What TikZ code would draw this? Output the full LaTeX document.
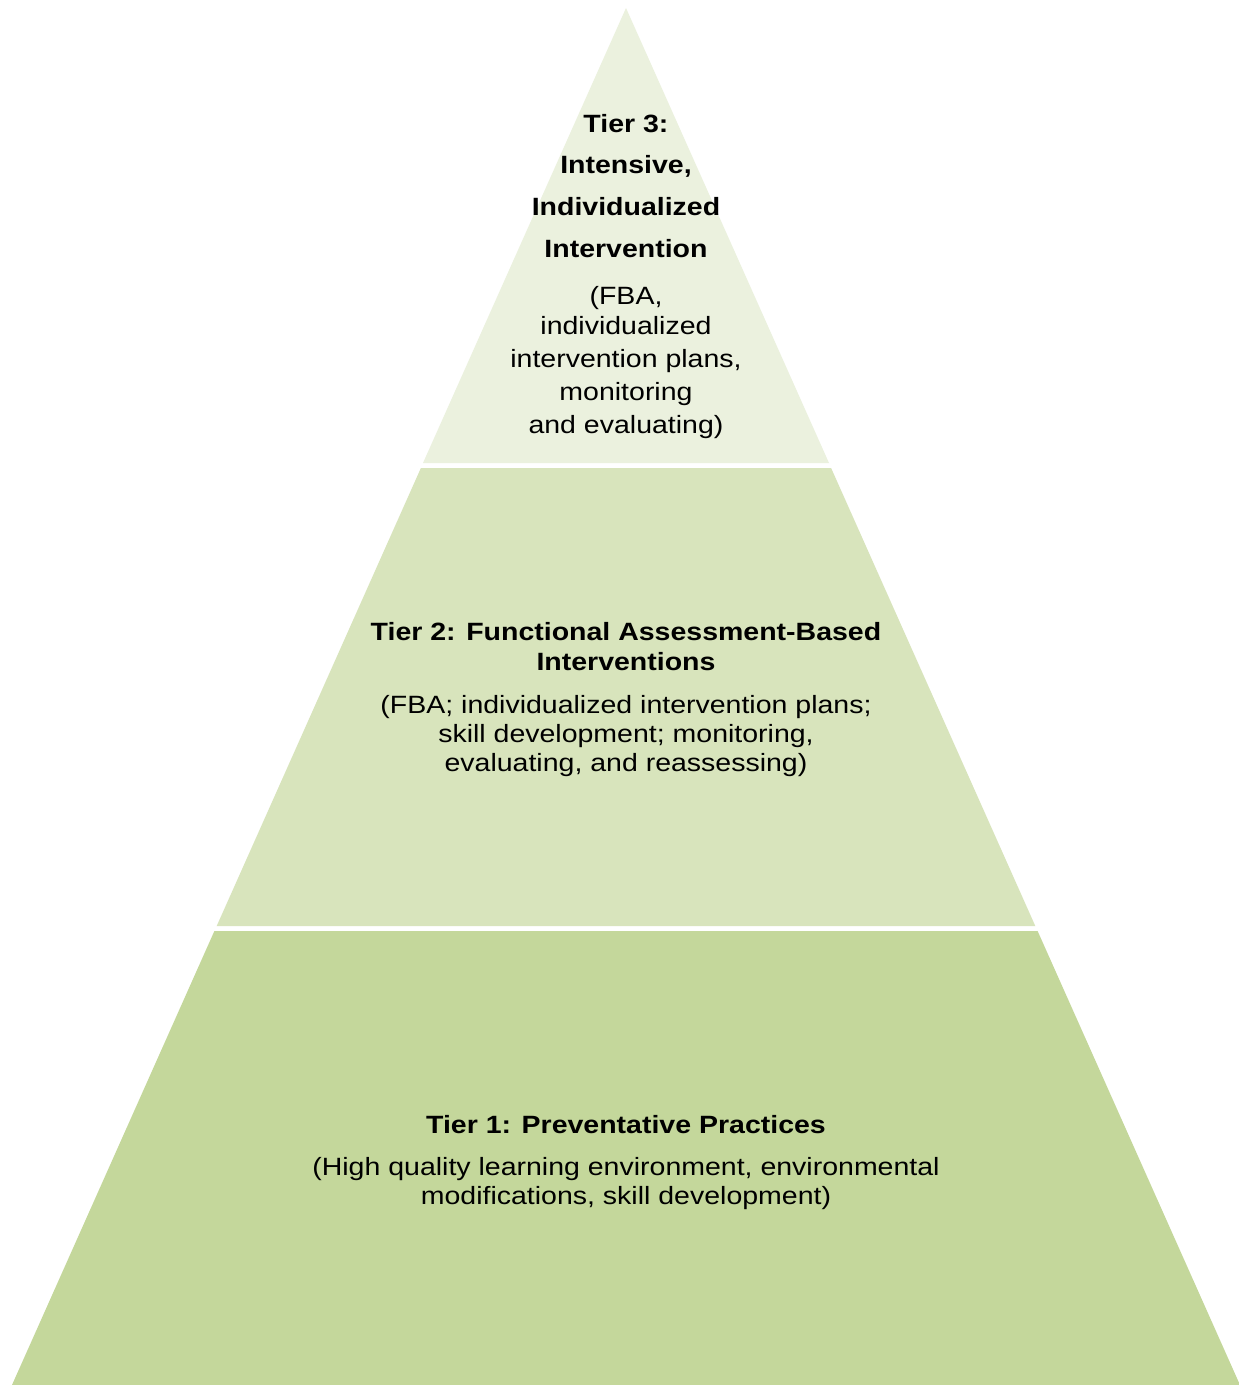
\documentclass[tikz,border=0pt]{standalone}
\usepackage{fontspec}
\setmainfont{Liberation Sans}[FakeStretch=1.14]
\definecolor{tierthree}{HTML}{EBF1DE}
\definecolor{tiertwo}{HTML}{D8E4BC}
\definecolor{tierone}{HTML}{C4D79B}
\begin{document}
\begin{tikzpicture}[x=1pt,y=-1pt,
  bline/.style={anchor=base,inner sep=0pt,font=\fontsize{25}{30}\selectfont\bfseries},
  rline/.style={anchor=base,inner sep=0pt,font=\fontsize{25}{30}\selectfont}]
\useasboundingbox (0,0) rectangle (1239,1385);
\fill[white] (0,0) rectangle (1239,1385);
% tiers
\fill[tierthree] (626,8) -- (829.0,463) -- (423.0,463) -- cycle;
\fill[tiertwo] (420.9,468) -- (831.1,468) -- (1035.3,926) -- (216.7,926) -- cycle;
\fill[tierone] (214.4,931) -- (1037.6,931) -- (1240,1385) -- (12,1385) -- cycle;
% tier 3 text
\node[bline] (t3a) at (626,132) {Tier 3:};
\node[bline] (t3b) at (626,173) {Intensive,};
\node[bline] (t3c) at (626,215) {Individualized};
\node[bline] (t3d) at (626,257) {Intervention};
\node[rline] (t3e) at (626,304) {(FBA,};
\node[rline] (t3f) at (626,334) {individualized};
\node[rline] (t3g) at (626,367) {intervention plans,};
\node[rline] (t3h) at (626,400) {monitoring};
\node[rline] (t3i) at (626,433) {and evaluating)};
% tier 2 text
\node[bline] (t2a) at (626,640) {Tier 2: Functional Assessment-Based};
\node[bline] (t2b) at (626,670) {Interventions};
\node[rline] (t2c) at (626,713) {(FBA; individualized intervention plans;};
\node[rline] (t2d) at (626,742) {skill development; monitoring,};
\node[rline] (t2e) at (626,771) {evaluating, and reassessing)};
% tier 1 text
\node[bline] (t1a) at (626,1133) {Tier 1: Preventative Practices};
\node[rline] (t1b) at (626,1175) {(High quality learning environment, environmental};
\node[rline] (t1c) at (626,1204) {modifications, skill development)};
\end{tikzpicture}
\end{document}
